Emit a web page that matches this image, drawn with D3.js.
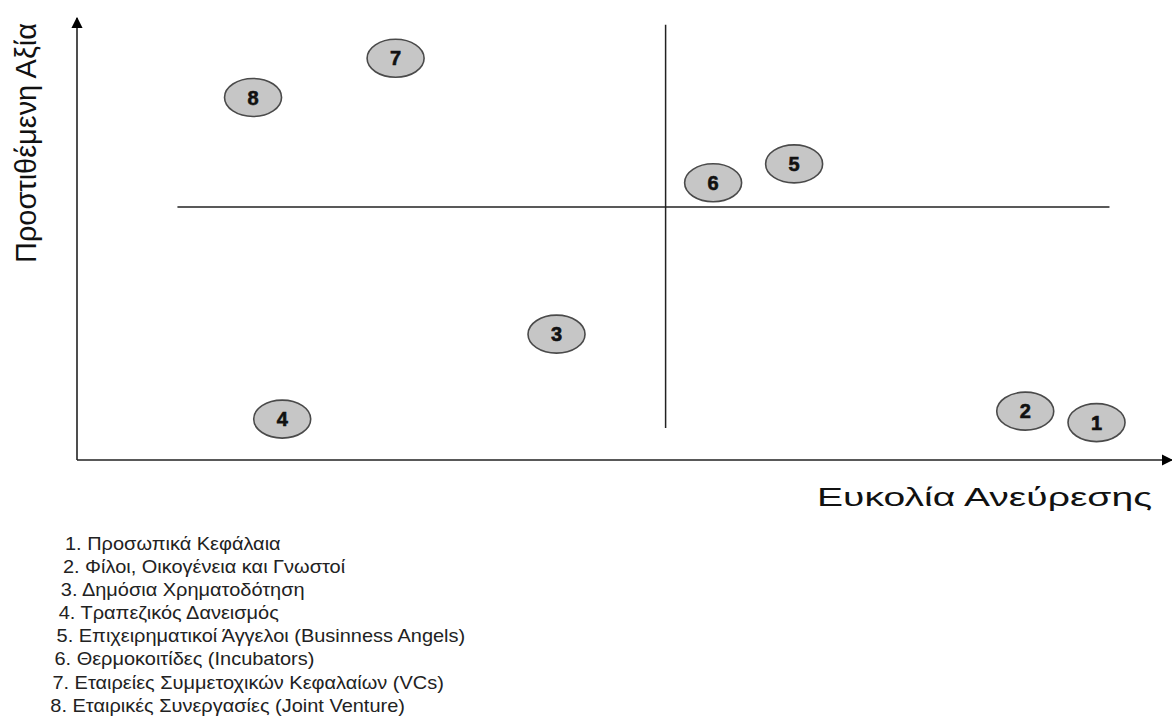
<!DOCTYPE html>
<html lang="el">
  <head>
    <meta charset="UTF-8" />
    <title>Πηγές χρηματοδότησης</title>
    <script src="https://cdn.jsdelivr.net/npm/d3@7"></script>
    <style>
      html,
      body {
        margin: 0;
        padding: 0;
        background: #fff;
      }
      svg {
        display: block;
        font-family: 'Liberation Sans', Arial, sans-serif;
      }
    </style>
  </head>
  <body>
    <svg width="1172" height="720"></svg>
    <script>
      // point ids and positions (0-100 on both axes)
      const ids = [1, 2, 3, 4, 5, 6, 7, 8];
      const ease = [94.4, 87.8, 44.4, 19.0, 66.4, 58.9, 29.5, 16.3];
      const value = [8.5, 11.1, 28.6, 9.3, 67.3, 63.0, 91.3, 82.4];

      const legend = [
        '1. Προσωπικά Κεφάλαια',
        '2. Φίλοι, Οικογένεια και Γνωστοί',
        '3. Δημόσια Χρηματοδότηση',
        '4. Τραπεζικός Δανεισμός',
        '5. Επιχειρηματικοί Άγγελοι (Businness Angels)',
        '6. Θερμοκοιτίδες (Incubators)',
        '7. Εταιρείες Συμμετοχικών Κεφαλαίων (VCs)',
        '8. Εταιρικές Συνεργασίες (Joint Venture)'
      ];

      // quadrant dividers
      const splitX = 54.5;
      const splitY = 57.5;

      const svg = d3.select('svg');

      const x = d3.scaleLinear().domain([0, 100]).range([77, 1157]);
      const y = d3.scaleLinear().domain([0, 100]).range([460, 20]);

      svg
        .append('defs')
        .append('marker')
        .attr('id', 'arrow')
        .attr('viewBox', '0 0 10 10')
        .attr('refX', 9)
        .attr('refY', 5)
        .attr('markerWidth', 7)
        .attr('markerHeight', 7)
        .attr('orient', 'auto')
        .append('path')
        .attr('d', 'M0,0L10,5L0,10z')
        .attr('fill', '#000');

      // axes
      svg
        .append('line')
        .attr('x1', x(0))
        .attr('y1', y(0))
        .attr('x2', x(100) + 15)
        .attr('y2', y(0))
        .attr('stroke', '#222')
        .attr('stroke-width', 1.6)
        .attr('marker-end', 'url(#arrow)');

      svg
        .append('line')
        .attr('x1', x(0))
        .attr('y1', y(0))
        .attr('x2', x(0))
        .attr('y2', y(100) - 2)
        .attr('stroke', '#222')
        .attr('stroke-width', 1.6)
        .attr('marker-end', 'url(#arrow)');

      // quadrant lines
      svg
        .append('line')
        .attr('x1', x(splitX))
        .attr('x2', x(splitX))
        .attr('y1', y(98.9))
        .attr('y2', y(7.3))
        .attr('stroke', '#222')
        .attr('stroke-width', 1.5);

      svg
        .append('line')
        .attr('x1', x(9.3))
        .attr('x2', x(95.6))
        .attr('y1', y(splitY))
        .attr('y2', y(splitY))
        .attr('stroke', '#222')
        .attr('stroke-width', 1.5);

      // axis titles (the original uses a wide face, so stretch it)
      svg
        .append('text')
        .attr('x', 817)
        .attr('y', 506)
        .attr('textLength', 335)
        .attr('lengthAdjust', 'spacingAndGlyphs')
        .style('font-size', '25px')
        .style('fill', '#111')
        .text('Ευκολία Ανεύρεσης');

      svg
        .append('text')
        .attr('transform', 'translate(36,143) rotate(-90)')
        .attr('text-anchor', 'middle')
        .attr('textLength', 240)
        .attr('lengthAdjust', 'spacingAndGlyphs')
        .style('font-size', '30px')
        .style('fill', '#111')
        .text('Προστιθέμενη Αξία');

      // points
      const pts = ids.map((id, i) => ({ id: id, ex: ease[i], va: value[i] }));

      const g = svg
        .selectAll('g.pt')
        .data(pts)
        .enter()
        .append('g')
        .attr('class', 'pt')
        .attr('transform', d => `translate(${x(d.ex)},${y(d.va)})`);

      g.append('ellipse')
        .attr('rx', 28.5)
        .attr('ry', 19)
        .attr('fill', '#c6c6c6')
        .attr('stroke', '#4a4a4a')
        .attr('stroke-width', 1.6);

      g.append('text')
        .attr('text-anchor', 'middle')
        .attr('dy', '0.36em')
        .style('font-size', '20px')
        .style('font-weight', 'bold')
        .style('fill', '#111')
        .style('stroke', '#111')
        .style('stroke-width', 0.6)
        .text(d => d.id);

      // legend, slightly stretched horizontally like the scan
      svg
        .append('g')
        .attr('transform', 'scale(1.11,1)')
        .selectAll('text.leg')
        .data(legend)
        .enter()
        .append('text')
        .attr('class', 'leg')
        .attr('x', (d, i) => (65 - i * 2.1) / 1.11)
        .attr('y', (d, i) => 550 + i * 23.1)
        .style('font-size', '18px')
        .style('fill', '#222')
        .text(d => d);
    </script>
  </body>
</html>
